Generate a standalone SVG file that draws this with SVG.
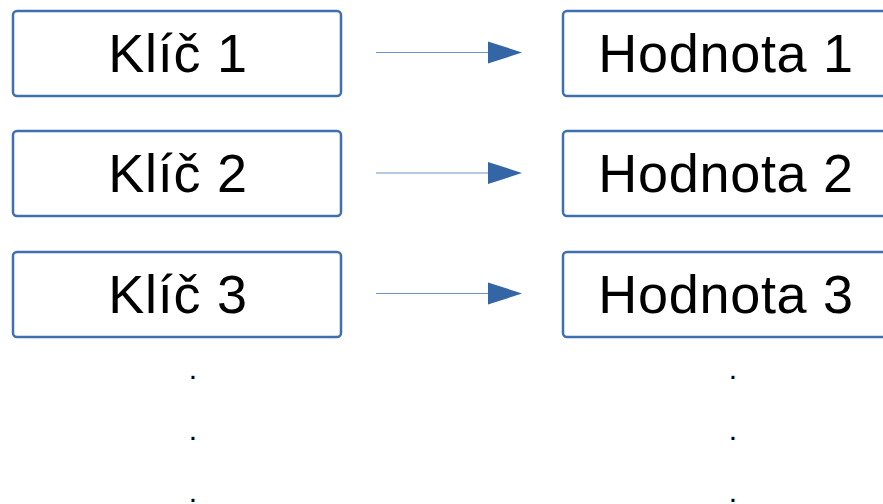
<svg xmlns="http://www.w3.org/2000/svg" width="883" height="504" viewBox="0 0 883 504">
<style>
.box{fill:#fff;stroke:#3f6fb0;stroke-width:2.5}
.lbl{font-family:"Liberation Sans",Arial,sans-serif;font-size:54px;letter-spacing:0.7px;fill:#000;text-anchor:middle}
.dot{font-family:"Liberation Sans",Arial,sans-serif;font-size:30px;fill:#000;text-anchor:middle}
.ln{stroke:#6d94c8;stroke-width:1.2;fill:none}
.hd{fill:#3465a4}
</style>
<rect width="883" height="504" fill="#fff"/>
<g id="k1"><rect class="box" x="13" y="11" width="328" height="85" rx="4"/><text class="lbl" x="178" y="72">Klíč 1</text></g>
<g id="k2"><rect class="box" x="13" y="131" width="328" height="85" rx="4"/><text class="lbl" x="178" y="192">Klíč 2</text></g>
<g id="k3"><rect class="box" x="13" y="252" width="328" height="85" rx="4"/><text class="lbl" x="178" y="313">Klíč 3</text></g>
<g id="h1"><rect class="box" x="563" y="11" width="340" height="85" rx="4"/><text class="lbl" x="726" y="72">Hodnota 1</text></g>
<g id="h2"><rect class="box" x="563" y="131" width="340" height="85" rx="4"/><text class="lbl" x="726" y="192">Hodnota 2</text></g>
<g id="h3"><rect class="box" x="563" y="252" width="340" height="85" rx="4"/><text class="lbl" x="726" y="313">Hodnota 3</text></g>
<g id="connectors">
<line class="ln" x1="376" y1="52.5" x2="490" y2="52.5"/><polygon class="hd" points="488,41.5 522,52.5 488,63.5"/>
<line class="ln" x1="376" y1="173" x2="490" y2="173"/><polygon class="hd" points="488,162 522,173 488,184"/>
<line class="ln" x1="376" y1="293.5" x2="490" y2="293.5"/><polygon class="hd" points="488,282.5 522,293.5 488,304.5"/>
</g>
<g id="dots">
<text class="dot" x="193" y="378.5">.</text><text class="dot" x="193" y="440">.</text><text class="dot" x="193" y="501.5">.</text>
<text class="dot" x="733" y="378.5">.</text><text class="dot" x="733" y="440">.</text><text class="dot" x="733" y="501.5">.</text>
</g>
</svg>
